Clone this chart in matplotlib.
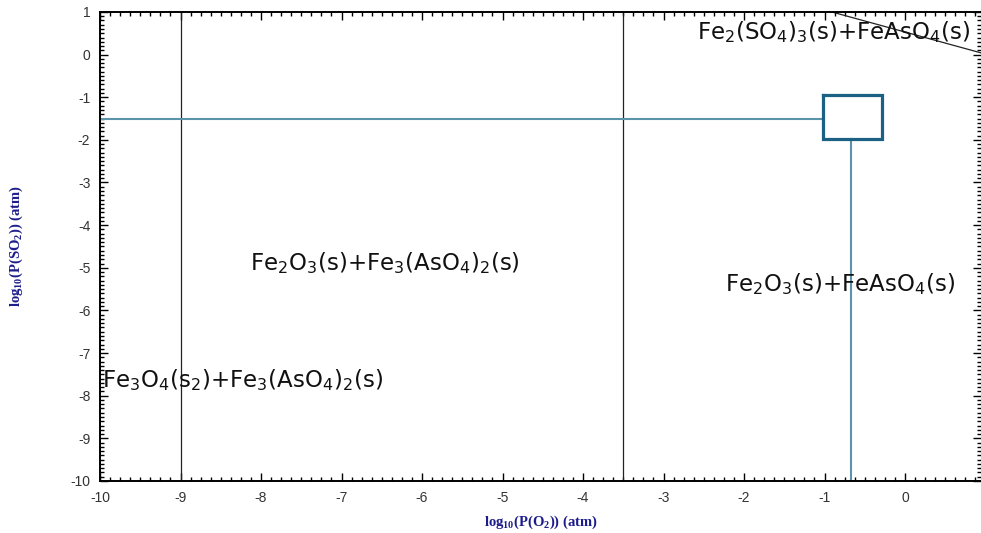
import matplotlib
matplotlib.use('Agg')
import matplotlib.pyplot as plt
from matplotlib.ticker import MultipleLocator

plt.rcParams['font.family'] = ['Liberation Sans', 'DejaVu Sans']
plt.rcParams['mathtext.default'] = 'regular'
plt.rcParams['axes.unicode_minus'] = False

# phase boundaries (log10 P(O2), log10 P(SO2))
boundary_x9 = [-9.0, -9.0]
boundary_x35 = [-3.5, -3.5]
boundary_y = [-10.0, 1.0]
diag_x = [-0.91, 0.944]
diag_y = [1.0, 0.04]

# operating point lines and box
hline_x = [-10.0, -1.02]
hline_y = [-1.5, -1.5]
vline_x = [-0.67, -0.67]
vline_y = [-10.0, -1.97]
box_x = [-1.02, -0.29, -0.29, -1.02, -1.02]
box_y = [-0.94, -0.94, -1.97, -1.97, -0.94]

labels = [r'Fe$_2$(SO$_4$)$_3$(s)+FeAsO$_4$(s)',
          r'Fe$_2$O$_3$(s)+Fe$_3$(AsO$_4$)$_2$(s)',
          r'Fe$_2$O$_3$(s)+FeAsO$_4$(s)',
          r'Fe$_3$O$_4$(s$_2$)+Fe$_3$(AsO$_4$)$_2$(s)']
label_x = [-2.58, -8.14, -2.24, -9.98]
label_y = [0.53, -4.89, -5.38, -7.64]

fig = plt.figure(figsize=(9.81, 5.33), dpi=100)
ax = fig.add_axes([0.102, 0.0976, 0.898, 0.88])

ax.plot(boundary_x9, boundary_y, color='#222222', lw=0.9)
ax.plot(boundary_x35, boundary_y, color='#222222', lw=0.9)
ax.plot(diag_x, diag_y, color='#222222', lw=0.9)

ax.plot(hline_x, hline_y, color='#5a93aa', lw=1.5)
ax.plot(vline_x, vline_y, color='#5a93aa', lw=1.5)
ax.plot(box_x, box_y, color='#1b6183', lw=2.3, solid_joinstyle='miter')

for t, x, y in zip(labels, label_x, label_y):
    ax.text(x, y, t, fontsize=16.5, fontfamily='DejaVu Sans',
            color='#111111', ha='left', va='center')

ax.set_xlim(-10, 0.944)
ax.set_ylim(-10, 1)
ax.xaxis.set_major_locator(MultipleLocator(1))
ax.xaxis.set_minor_locator(MultipleLocator(0.125))
ax.yaxis.set_major_locator(MultipleLocator(1))
ax.yaxis.set_minor_locator(MultipleLocator(0.1))
ax.tick_params(which='both', direction='in', top=True, right=True,
               labelsize=10, labelcolor='#333333', width=1.0)
ax.tick_params(which='major', length=6, pad=7)
ax.tick_params(which='minor', length=3)
ax.spines['right'].set_visible(False)
for s in ['left', 'bottom', 'top']:
    ax.spines[s].set_linewidth(1.4)

ax.set_xlabel(r'log$_{10}$(P(O$_2$)) (atm)', fontfamily='Liberation Serif',
              fontweight='bold', fontsize=10.5, color='#1c1c8c')
ax.set_ylabel(r'log$_{10}$(P(SO$_2$)) (atm)', fontfamily='Liberation Serif',
              fontweight='bold', fontsize=10.5, color='#1c1c8c')
ax.xaxis.set_label_coords(0.5, -0.07)
ax.yaxis.set_label_coords(-0.085, 0.5)

fig.savefig('out.png', dpi=100)
